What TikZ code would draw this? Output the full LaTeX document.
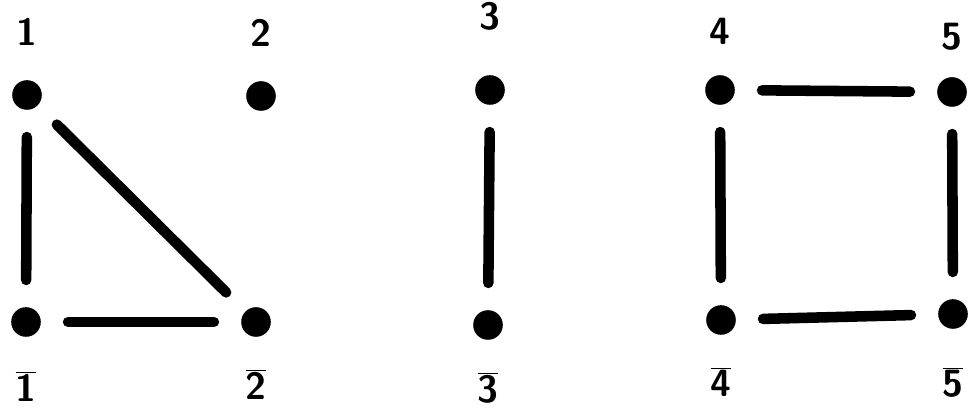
\documentclass[tikz,border=0pt]{standalone}
\usetikzlibrary{positioning}
\tikzset{
  every picture/.style={line width=7.5pt},
  dot/.style={circle, fill=black, inner sep=0pt, minimum size=0.74cm},
  lab/.style={font=\sffamily\bfseries\fontsize{27}{29}\selectfont, inner sep=0pt},
  edge/.style={line cap=round, shorten >=0.55cm, shorten <=0.55cm},
}
\begin{document}
\begin{tikzpicture}
  \useasboundingbox (0,0) rectangle (24.3,-10.375);
  % top row
  \node[dot] (v1) at (0.675,-2.375) {};
  \node[dot] (v2) at (6.525,-2.4) {};
  \node[dot] (v3) at (12.25,-2.25) {};
  \node[dot] (v4) at (18,-2.25) {};
  \node[dot] (v5) at (23.8,-2.3) {};
  % bottom row
  \node[dot] (w1) at (0.65,-8.05) {};
  \node[dot] (w2) at (6.4,-8.05) {};
  \node[dot] (w3) at (12.2,-8.125) {};
  \node[dot] (w4) at (18.025,-8.0) {};
  \node[dot] (w5) at (23.825,-7.85) {};
  % labels
  \node[lab, above=0.6cm of v1] {1};
  \node[lab, above=0.6cm of v2] {2};
  \node[lab, above=0.85cm of v3] {3};
  \node[lab, above=0.5cm of v4] {4};
  \node[lab, above=0.4cm of v5] {5};
  \node[lab, below=0.6cm of w1] {$\overline{\mbox{1}}$};
  \node[lab, below=0.55cm of w2] {$\overline{\mbox{2}}$};
  \node[lab, below=0.55cm of w3] {$\overline{\mbox{3}}$};
  \node[lab, below=0.55cm of w4] {$\overline{\mbox{4}}$};
  \node[lab, below=0.7cm of w5] {$\overline{\mbox{5}}$};
  % edges
  \draw[edge] (v1) -- (w1);
  \draw[edge] (v1) -- (w2);
  \draw[edge] (w1) -- (w2);
  \draw[edge] (v3) -- (w3);
  \draw[edge] (v4) -- (v5);
  \draw[edge] (v4) -- (w4);
  \draw[edge] (v5) -- (w5);
  \draw[edge] (w4) -- (w5);
\end{tikzpicture}
\end{document}
